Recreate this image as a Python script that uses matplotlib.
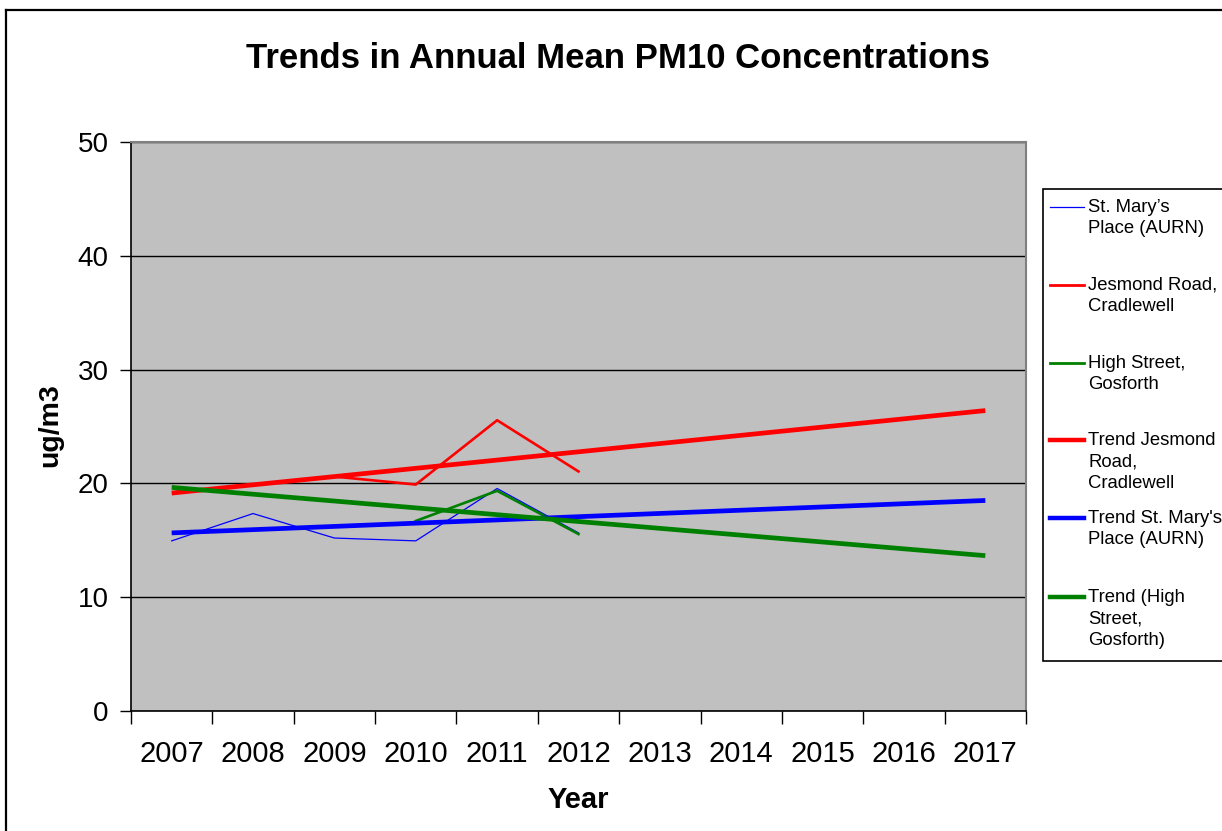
import matplotlib
matplotlib.use("Agg")
import matplotlib.pyplot as plt
from matplotlib.lines import Line2D
from matplotlib.patches import Rectangle

# ---------------- data ----------------
years = ["2007", "2008", "2009", "2010", "2011", "2012", "2013", "2014", "2015", "2016", "2017"]

st_marys_years = ["2007", "2008", "2009", "2010", "2011", "2012"]
st_marys = [14.95, 17.35, 15.2, 14.95, 19.55, 15.65]

jesmond_years = ["2009", "2010", "2011", "2012"]
jesmond = [20.6, 19.9, 25.55, 21.05]

high_st_years = ["2010", "2011", "2012"]
high_st = [16.7, 19.35, 15.55]

trend_years = ["2007", "2017"]
trend_jesmond = [19.15, 26.4]
trend_st_marys = [15.65, 18.5]
trend_high_st = [19.65, 13.65]

labels = ["St. Mary\u2019s\nPlace (AURN)",
          "Jesmond Road,\nCradlewell",
          "High Street,\nGosforth",
          "Trend Jesmond\nRoad,\nCradlewell",
          "Trend St. Mary's\nPlace (AURN)",
          "Trend (High\nStreet,\nGosforth)"]

y_ticks = [0, 10, 20, 30, 40, 50]

# ---------------- style ----------------
plt.rcParams['font.family'] = ['Liberation Sans', 'DejaVu Sans']

W, H = 1222, 831
fig = plt.figure(figsize=(W / 100, H / 100), dpi=100)
fig.patch.set_facecolor("white")

# outer chart frame (only top and left visible)
fig.add_artist(Line2D([6 / W, 6 / W], [0, 1 - 10 / H], transform=fig.transFigure,
                      color="black", lw=1.6))
fig.add_artist(Line2D([6 / W, 1], [1 - 10 / H, 1 - 10 / H], transform=fig.transFigure,
                      color="black", lw=1.6))

left, right, top, bottom = 131, 1026, 142, 711
ax = fig.add_axes([left / W, 1 - bottom / H, (right - left) / W, (bottom - top) / H])
ax.set_facecolor("#C0C0C0")

idx = {y: i for i, y in enumerate(years)}
def xs(lst):
    return [idx[v] for v in lst]

ax.plot(xs(st_marys_years), st_marys, color="#0000FF", lw=0.9, zorder=3)
ax.plot(xs(jesmond_years), jesmond, color="#FF0000", lw=1.9, zorder=3)
ax.plot(xs(high_st_years), high_st, color="#008000", lw=1.9, zorder=3)
ax.plot(xs(trend_years), trend_jesmond, color="#FF0000", lw=3.4, zorder=4, solid_capstyle="butt")
ax.plot(xs(trend_years), trend_st_marys, color="#0000FF", lw=3.4, zorder=4, solid_capstyle="butt")
ax.plot(xs(trend_years), trend_high_st, color="#008000", lw=3.4, zorder=4, solid_capstyle="butt")

ax.set_xlim(-0.5, len(years) - 0.5)
ax.set_ylim(0, 50)

ax.set_yticks(y_ticks)
ax.set_yticklabels([str(v) for v in y_ticks], fontsize=20)
ax.yaxis.grid(True, color="black", lw=1.0)
ax.set_axisbelow(True)
ax.tick_params(axis="y", direction="out", length=8, width=1, pad=8, colors="black")

ax.set_xticks(range(len(years)))
ax.set_xticklabels(years, fontsize=21)
ax.set_xticks([i - 0.5 for i in range(len(years) + 1)], minor=True)
ax.tick_params(axis="x", which="major", length=0, pad=21)
ax.tick_params(axis="x", which="minor", direction="out", length=9, width=1)

for s in ["left", "bottom"]:
    ax.spines[s].set_color("black")
    ax.spines[s].set_linewidth(1.2)
for s in ["top", "right"]:
    ax.spines[s].set_color("#808080")
    ax.spines[s].set_linewidth(1.5)

fig.text(618 / W, 1 - 58 / H, "Trends in Annual Mean PM10 Concentrations",
         ha="center", va="center", fontsize=25, fontweight="bold")
fig.text(578 / W, 1 - 800 / H, "Year", ha="center", va="center",
         fontsize=21, fontweight="bold")
fig.text(50 / W, 1 - 425 / H, "ug/m3", ha="center", va="center", rotation=90,
         fontsize=20.5, fontweight="bold")

# ---------------- legend (manual) ----------------
lx0, ly0, ly1 = 1043, 189, 661
fig.add_artist(Rectangle((lx0 / W, 1 - ly1 / H), (W + 20 - lx0) / W, (ly1 - ly0) / H,
                         transform=fig.transFigure, facecolor="white",
                         edgecolor="black", lw=1.2, clip_on=False))
handle_styles = [("#0000FF", 0.9), ("#FF0000", 2.0), ("#008000", 2.0),
                 ("#FF0000", 3.2), ("#0000FF", 3.2), ("#008000", 3.2)]
entry_y = [207, 285, 363, 440, 518, 597]
for (c, lw), yy, lab in zip(handle_styles, entry_y, labels):
    fig.add_artist(Line2D([1050 / W, 1084 / W], [1 - yy / H, 1 - yy / H],
                          transform=fig.transFigure, color=c, lw=lw))
    fig.text(1088 / W, 1 - (yy - 8) / H, lab, ha="left", va="top",
             fontsize=13.3, linespacing=1.33)

fig.savefig("out.png", dpi=100, facecolor="white")
